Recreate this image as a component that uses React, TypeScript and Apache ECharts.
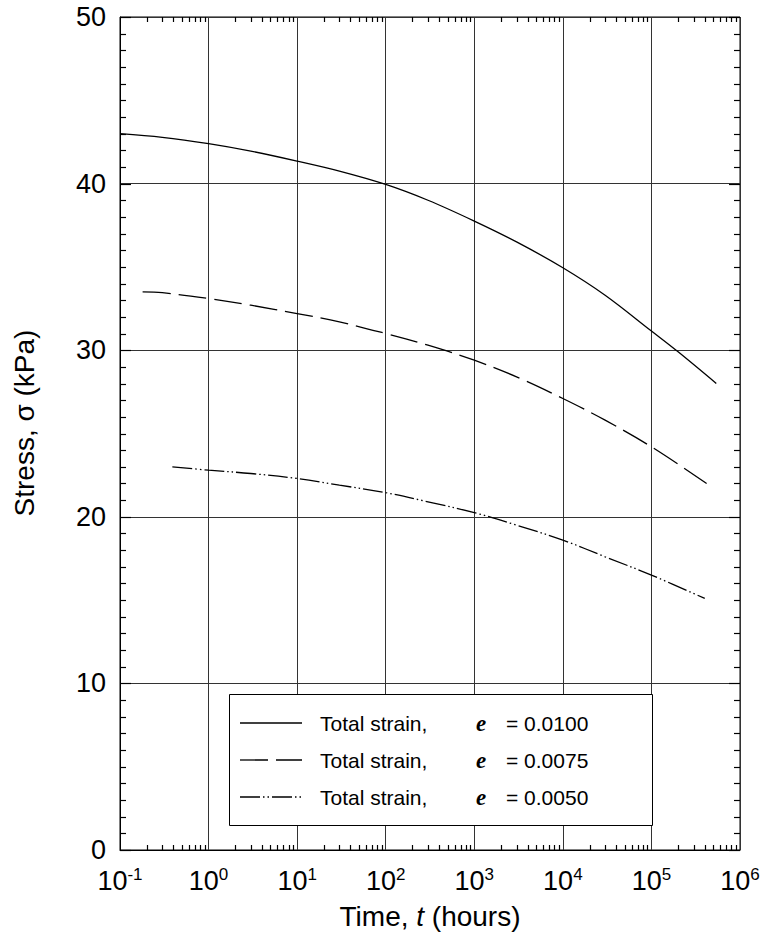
import React, { useEffect, useRef } from "react";
import * as echarts from "echarts";

// Time (hours) and stress (kPa)
const timeE0100 = [0.1, 0.3, 1, 3, 10, 30, 100, 300, 1000, 3000, 10000, 30000, 100000, 200000, 540000];
const stressE0100 = [43.0, 42.78, 42.4, 41.95, 41.35, 40.75, 39.95, 39.0, 37.75, 36.5, 34.95, 33.3, 31.15, 29.9, 28.0];

const timeE0075 = [0.18, 0.3, 1, 3, 10, 30, 100, 300, 1000, 3000, 10000, 30000, 100000, 420000];
const stressE0075 = [33.5, 33.45, 33.1, 32.7, 32.2, 31.7, 31.0, 30.3, 29.4, 28.4, 27.1, 25.8, 24.2, 22.0];

const timeE0050 = [0.39, 1, 3, 10, 30, 100, 300, 1000, 3000, 10000, 30000, 100000, 400000];
const stressE0050 = [23.0, 22.8, 22.6, 22.3, 21.9, 21.45, 20.9, 20.25, 19.5, 18.6, 17.6, 16.5, 15.1];

const strainLabels = ["0.0100", "0.0075", "0.0050"];
const seriesNames = strainLabels.map((s) => `Total strain, e = ${s}`);
const dashPatterns: (number[] | null)[] = [null, [28, 8], [20, 3, 1.5, 3, 1.5, 3]];

const xMin = 0.1;
const xMax = 1e6;
const yMin = 0;
const yMax = 50;
const yInterval = 10;
const yMinorStep = 1;

const decadeExponents = [-1, 0, 1, 2, 3, 4, 5];
const minorMultipliers = [2, 3, 4, 5, 6, 7, 8, 9];

const FONT = '"Liberation Sans", Arial, Helvetica, sans-serif';
const SERIF = '"Liberation Serif", "Times New Roman", serif';

export default function App() {
  const ref = useRef<HTMLDivElement>(null);

  useEffect(() => {
    if (!ref.current) return;
    const chart = echarts.init(ref.current, undefined, { renderer: "svg" });

    const pair = (xs: number[], ys: number[]) => xs.map((x, i) => [x, ys[i]]);

    chart.setOption({
      animation: false,
      backgroundColor: "#fff",
      grid: {
        left: 120,
        right: 27,
        top: 17,
        bottom: 88,
        show: true,
        borderColor: "#000",
        borderWidth: 1,
        backgroundColor: "transparent",
      },
      xAxis: {
        type: "log",
        logBase: 10,
        min: xMin,
        max: xMax,
        splitNumber: 7,
        position: "bottom",
        axisLine: { show: true, lineStyle: { color: "#000", width: 1 } },
        axisTick: { show: false },
        splitLine: { show: true, lineStyle: { color: "#333", width: 1 } },
        axisLabel: {
          margin: 16,
          color: "#000",
          fontFamily: FONT,
          formatter: (v: number) => {
            const e = Math.round(Math.log10(v));
            return `{b|10}{s|${e}}`;
          },
          rich: {
            b: { fontSize: 27, fontFamily: FONT, color: "#000" },
            s: { fontSize: 17, fontFamily: FONT, color: "#000", padding: [0, 0, 13, 0] },
          },
        },
        name: "Time, {i|t} (hours)",
        nameLocation: "middle",
        nameGap: 52,
        nameTextStyle: {
          fontSize: 28,
          fontFamily: FONT,
          color: "#000",
          rich: {
            i: { fontSize: 28, fontFamily: FONT, fontStyle: "italic", color: "#000" },
          },
        },
      },
      yAxis: {
        type: "value",
        min: yMin,
        max: yMax,
        interval: yInterval,
        position: "left",
        axisLine: { show: true, lineStyle: { color: "#000", width: 1 } },
        axisTick: { show: false },
        splitLine: { show: true, lineStyle: { color: "#333", width: 1 } },
        axisLabel: { fontSize: 27, fontFamily: FONT, color: "#000", margin: 14 },
      },
      series: seriesNames.map((name, i) => ({
        type: "line",
        symbol: "none",
        smooth: 0.35,
        z: 3,
        name,
        data: [
          pair(timeE0100, stressE0100),
          pair(timeE0075, stressE0075),
          pair(timeE0050, stressE0050),
        ][i],
        lineStyle: { color: "#000", width: 1.3, type: dashPatterns[i] ?? "solid" },
        itemStyle: { color: "#000" },
      })),
    });

    // Tick marks placed through the chart's own scales
    const toPx = (x: number, y: number): number[] => {
      const p = chart.convertToPixel({ gridIndex: 0 }, [x, y]) as any;
      return Array.isArray(p) ? p : [NaN, NaN];
    };
    const [xL, yB] = toPx(xMin, yMin);
    const [xR, yT] = toPx(xMax, yMax);

    const tick = (x1: number, y1: number, x2: number, y2: number) => ({
      type: "line",
      z: 22,
      silent: true,
      shape: { x1, y1, x2, y2 },
      style: { stroke: "#000", lineWidth: 1.2 },
    });

    const graphics: any[] = [];
    decadeExponents.forEach((e) => {
      minorMultipliers.forEach((m) => {
        const x = Math.round(toPx(m * Math.pow(10, e), yMin)[0]) + 0.5;
        graphics.push(tick(x, yB, x, yB - 5));
        graphics.push(tick(x, yT, x, yT + 5));
      });
    });
    for (let v = yMin; v <= yMax + 1e-9; v += yMinorStep) {
      const y = Math.round(toPx(xMin, v)[1]) + 0.5;
      const major = Math.abs(v % yInterval) < 1e-9;
      const len = major ? 11 : 6;
      graphics.push(tick(xL, y, xL + len, y));
      graphics.push(tick(xR, y, xR - len, y));
    }

    // Y axis title
    graphics.push({
      type: "text",
      x: 24,
      y: 423,
      rotation: Math.PI / 2,
      style: {
        text: "Stress, σ (kPa)",
        font: `28px ${FONT}`,
        fill: "#000",
        align: "center",
        verticalAlign: "middle",
      },
    });

    // Legend
    const legLeft = 229;
    const legTop = 694;
    const legRight = 652;
    const legBottom = 825;
    graphics.push({
      type: "rect",
      z: 20,
      shape: { x: legLeft + 0.5, y: legTop + 0.5, width: legRight - legLeft, height: legBottom - legTop },
      style: { fill: "#fff", stroke: "#000", lineWidth: 1 },
    });
    const rowY = [723, 760, 797];
    seriesNames.forEach((_, i) => {
      const y = rowY[i];
      graphics.push({
        type: "line",
        z: 21,
        shape: { x1: 240, y1: y, x2: 302, y2: y },
        style: { stroke: "#000", lineWidth: 1.3, lineDash: dashPatterns[i] ?? undefined },
      });
      graphics.push({
        type: "text",
        z: 21,
        x: 320,
        y,
        style: { text: "Total strain,", font: `21px ${FONT}`, fill: "#000", align: "left", verticalAlign: "middle" },
      });
      graphics.push({
        type: "text",
        z: 21,
        x: 476,
        y,
        style: { text: "e", font: `italic bold 23px ${SERIF}`, fill: "#000", align: "left", verticalAlign: "middle" },
      });
      graphics.push({
        type: "text",
        z: 21,
        x: 506,
        y,
        style: { text: `= ${strainLabels[i]}`, font: `21px ${FONT}`, fill: "#000", align: "left", verticalAlign: "middle" },
      });
    });

    chart.setOption({ graphic: graphics });

    return () => {
      chart.dispose();
    };
  }, []);

  return (
    <div
      ref={ref}
      style={{ position: "fixed", left: 0, top: 0, width: 767, height: 938, background: "#fff" }}
    />
  );
}
